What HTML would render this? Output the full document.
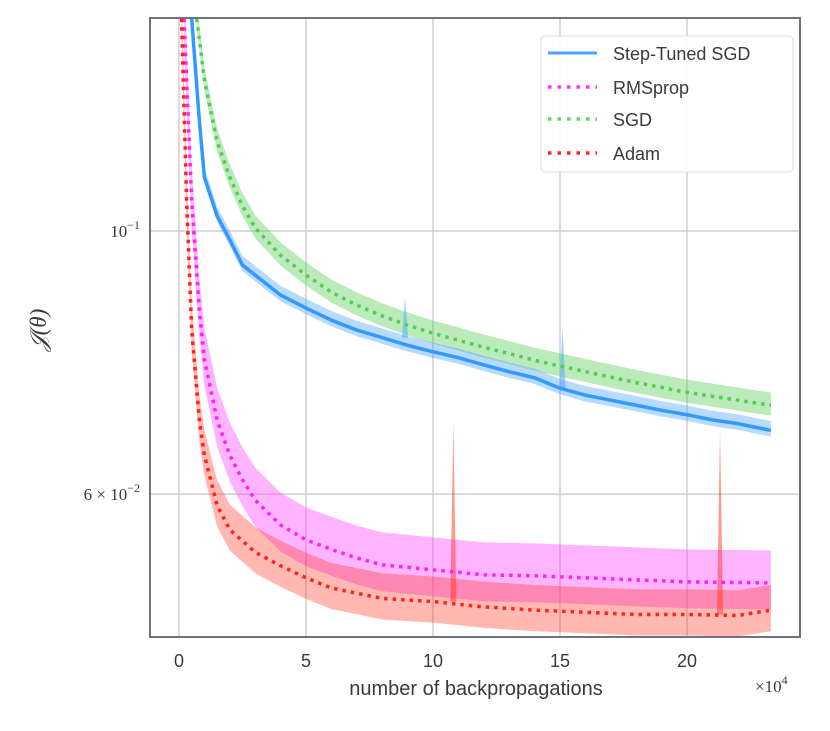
<!DOCTYPE html>
<html><head><meta charset="utf-8"><style>
html,body{margin:0;padding:0;background:#fff}
svg text{font-family:"Liberation Sans",sans-serif;fill:#3a3a3a}
</style></head><body>
<svg id="chart" width="830" height="726" viewBox="0 0 830 726" xmlns="http://www.w3.org/2000/svg">
<defs><clipPath id="clip"><rect x="151" y="19" width="648" height="617"/></clipPath></defs>
<g id="grid"></g>
<g id="series" clip-path="url(#clip)"></g>
<rect x="150" y="18" width="650" height="619" fill="none" stroke="#6e7380" stroke-width="2"/>
<g id="ticks"></g>
<text x="476" y="695" font-size="20" text-anchor="middle">number of backpropagations</text>
<text x="755" y="692" font-size="17" style="font-family:'Liberation Serif',serif">×10<tspan dy="-8" font-size="12">4</tspan></text>
<text transform="translate(46,330) rotate(-90)" font-size="23" text-anchor="middle" style="font-family:'Liberation Serif',serif;font-style:italic">𝒥(θ)</text>
<g>
<rect x="541" y="36" width="252" height="136" rx="4" fill="#fff" fill-opacity="0.9" stroke="#ddd"/>
<g><line x1="548" y1="53" x2="597" y2="53" stroke="#4aa3ff" stroke-width="3"/><text x="613" y="60" font-size="18">Step-Tuned SGD</text></g>
<g><line x1="548" y1="87" x2="597" y2="87" stroke="#ff33ff" stroke-width="3.5" stroke-dasharray="3.5,6"/><text x="613" y="94" font-size="18">RMSprop</text></g>
<g><line x1="548" y1="119" x2="597" y2="119" stroke="#55dd55" stroke-width="3.5" stroke-dasharray="3.5,6"/><text x="613" y="126" font-size="18">SGD</text></g>
<g><line x1="548" y1="153" x2="597" y2="153" stroke="#ff2222" stroke-width="3.5" stroke-dasharray="3.5,6"/><text x="613" y="160" font-size="18">Adam</text></g>
</g>
</svg>
<script>
const xTicks=[0,5,10,15,20];
const stepX=[0.5,0.8,1,1.5,2,2.5,3,4,5,6,7,8,9,10,11,12,13,14,15,16,17,18,19,20,21,22,23.3];
const stepY=[0.151,0.124,0.111,0.103,0.0983,0.0936,0.0918,0.0883,0.0861,0.0841,0.0825,0.0813,0.0801,0.0791,0.0782,0.0771,0.0761,0.0752,0.0737,0.0727,0.0720,0.0713,0.0706,0.0700,0.0693,0.0688,0.0679];
const sgdX=[0.7,1,1.5,2,2.5,3,4,5,6,7,8,9,10,12,14,16,18,20,22,23.3];
const sgdY=[0.151,0.134,0.119,0.111,0.105,0.1006,0.0954,0.0918,0.0888,0.0866,0.0848,0.0833,0.0820,0.0798,0.0778,0.0761,0.0745,0.0731,0.0720,0.0713];
const rmsX=[0.2,0.5,0.8,1,1.5,2,2.5,3,4,5,6,7,8,10,12,14,16,18,20,23.3];
const rmsY=[0.151,0.106,0.0858,0.0779,0.0693,0.0647,0.0617,0.0593,0.0565,0.0549,0.0539,0.0530,0.0523,0.0518,0.0513,0.0512,0.0510,0.0508,0.0506,0.0505];
const adamX=[0.1,0.3,0.5,0.8,1,1.5,2,3,4,5,6,7,8,10,12,14,16,18,20,22,23.3];
const adamY=[0.151,0.106,0.0825,0.0693,0.0647,0.0587,0.0560,0.0536,0.0522,0.0510,0.0500,0.0495,0.0490,0.0487,0.0482,0.0479,0.0477,0.0475,0.0475,0.0474,0.0479];
const adamSpikeX=[10.8,21.3];
const adamSpikeY=[0.069,0.068];
const stepSpikeX=[8.9,15.1];
const stepSpikeY=[0.088,0.083];

const NS="http://www.w3.org/2000/svg";
const X0=179,XS=25.4;
function xs(v){return X0+v*XS;}
function ys(v){return 231-(Math.log10(v)+1)*1186;}
const grid=document.getElementById('grid'),ticks=document.getElementById('ticks'),ser=document.getElementById('series');
function mk(tag,attrs,parent){const e=document.createElementNS(NS,tag);for(const k in attrs)e.setAttribute(k,attrs[k]);parent.appendChild(e);return e;}
xTicks.forEach(t=>{
  const l=mk('line',{x1:xs(t),x2:xs(t),y1:18,y2:637,stroke:'#cfcfcf','stroke-width':1.5},grid);
  
  
  const tx=mk('text',{x:xs(t),y:667,'font-size':18,'text-anchor':'middle'},ticks);
  tx.textContent=t;
  
  
});
[[0.1,'10','−1',''],[0.06,'6 × 10','−2','']].forEach(d=>{
  const l=mk('line',{x1:150,x2:800,y1:ys(d[0]),y2:ys(d[0]),stroke:'#cfcfcf','stroke-width':1.5},grid);
  
  
  const tx=mk('text',{x:140,y:ys(d[0])+6,'font-size':17,'text-anchor':'end',style:"font-family:'Liberation Serif',serif"},ticks);
  tx.innerHTML=d[1]+'<tspan dy="-8" font-size="12">'+d[2]+'</tspan>';
  
  
});
function band(X,Y,fl,fu,color,op,name){
  let p='';X.forEach((x,i)=>{p+=(i?'L':'M')+xs(x)+','+ys(Y[i]*(1+fu));});
  for(let i=X.length-1;i>=0;i--)p+='L'+xs(X[i])+','+ys(Y[i]*(1-fl));
  const e=mk('path',{d:p+'Z',fill:color,'fill-opacity':op},ser);
  
  
}
function line(X,Y,color,w,dash,name){
  const e=mk('polyline',{points:X.map((x,i)=>xs(x)+','+ys(Y[i])).join(' '),fill:'none',stroke:color,'stroke-width':w,'stroke-linejoin':'round'},ser);
  if(dash)e.setAttribute('stroke-dasharray',dash);
  
  
}
function spikes(SX,SY,X,Y,color,name){
  SX.forEach((sx,i)=>{
    let j=0;while(j<X.length-1&&X[j+1]<sx)j++;
    const base=Y[j];
    const e=mk('path',{d:'M'+(xs(sx)-3)+','+ys(base)+'L'+xs(sx)+','+ys(SY[i])+'L'+(xs(sx)+3)+','+ys(base)+'Z',fill:color,'fill-opacity':0.5},ser);
    
    
  });
}
band(sgdX,sgdY,0.02,0.025,'#55cc55',0.4,'sgd-band');
band(stepX,stepY,0.012,0.018,'#4aa3ff',0.4,'step-tuned-sgd-band');
spikes(stepSpikeX,stepSpikeY,stepX,stepY,'#4aa3ff','step-tuned-sgd-spike');
band(rmsX,rmsY,0.05,0.065,'#ff44ff',0.4,'rmsprop-band');
band(adamX,adamY,0.04,0.05,'#ff3322',0.35,'adam-band');
spikes(adamSpikeX,adamSpikeY,adamX,adamY,'#ff3322','adam-spike');
line(sgdX,sgdY,'#55cc55',3.5,'3.5,5','sgd-line');
line(stepX,stepY,'#3399ff',3.5,null,'step-tuned-sgd-line');
line(rmsX,rmsY,'#ff22ff',3.5,'3.5,5','rmsprop-line');
line(adamX,adamY,'#ff2222',3.5,'3.5,5','adam-line');
</script>
</body></html>
